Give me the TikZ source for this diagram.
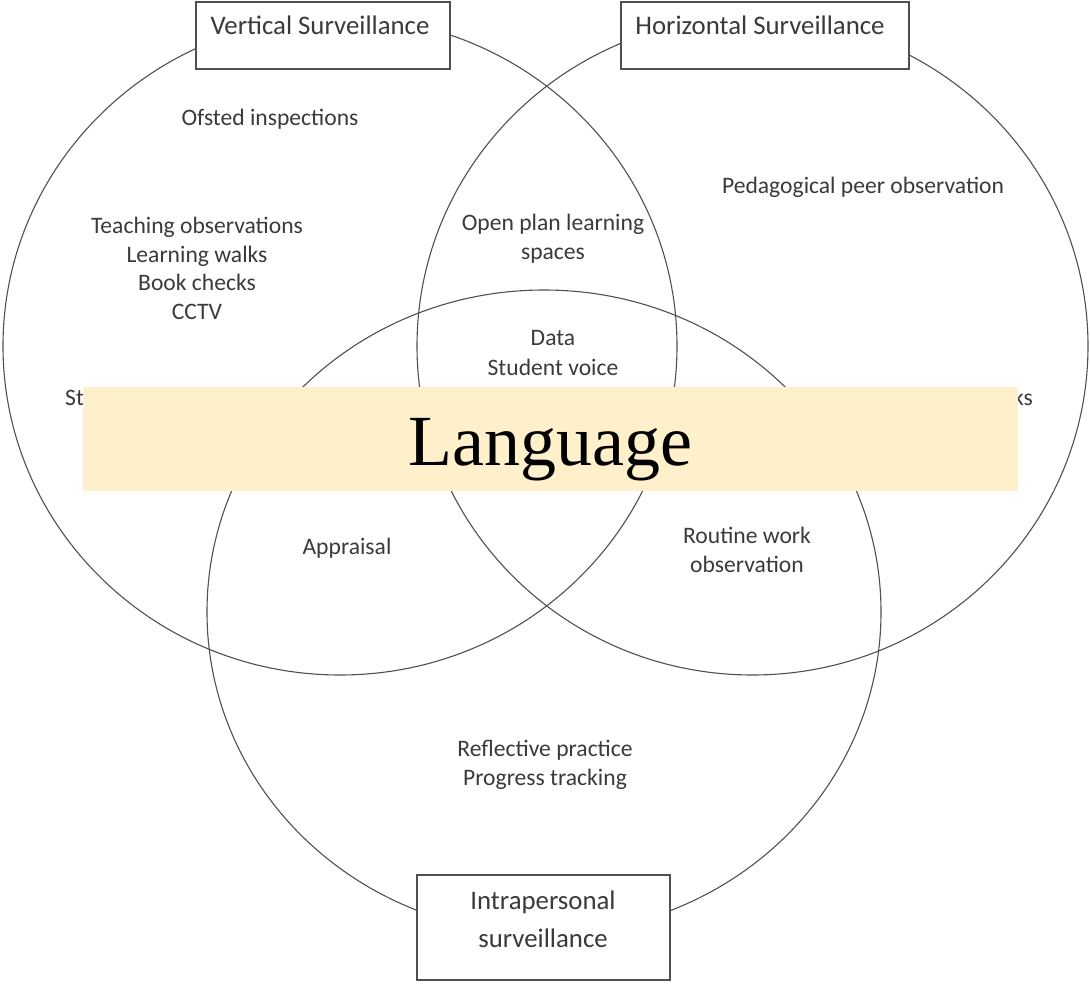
\documentclass[tikz,border=0pt]{standalone}
\usepackage{fontspec}
\setmainfont{Carlito}
\newfontfamily\langfont{Liberation Serif}
\definecolor{ink}{HTML}{3A3A3A}
\definecolor{ringc}{HTML}{505050}
\definecolor{bannerc}{HTML}{FFF0CC}
\begin{document}
\begin{tikzpicture}[x=1pt,y=-1pt,
  ring/.style={draw=ringc, line width=1.1pt},
  lbl/.style={text=ink, font=\fontsize{23.6}{29}\selectfont, align=center, inner sep=0pt, anchor=base},
  boxlbl/.style={text=ink, font=\fontsize{26.8}{38}\selectfont, align=center, inner sep=0pt, anchor=base},
  frame/.style={draw=ringc, fill=white, line width=1.1pt, inner sep=0pt}]
\useasboundingbox (0,0) rectangle (1090,984);
% circles
\draw[ring] (340,346) ellipse [x radius=337, y radius=329];
\draw[ring] (752.5,346) ellipse [x radius=335.5, y radius=329];
\draw[ring] (544,612) ellipse [x radius=337, y radius=322];
% texts
\node[lbl] (ofsted) at (270,126) {Ofsted inspections};
\node[lbl] (teach) at (197,320) {Teaching observations\\Learning walks\\Book checks\\CCTV};
\node[lbl] (open) at (553,260) {Open plan learning\\spaces};
\node[lbl] (peda) at (863,194) {Pedagogical peer observation};
\node[lbl] (data) at (553,375) {Data\\Student voice};
\node[lbl, anchor=base west] (stud) at (65,405) {Student surveys};
\node[lbl, anchor=base east] (peer) at (1033,405) {Peer book checks};
\node[lbl] (appr) at (347,554) {Appraisal};
\node[lbl] (rout) at (747,572) {Routine work\\observation};
\node[lbl] (refl) at (545,785) {Reflective practice\\Progress tracking};
% banner
\node[fill=bannerc, minimum width=935, minimum height=104, inner sep=0pt] (banner) at (550.5,438.5) {};
\node[anchor=base, inner sep=0pt, font=\langfont\fontsize{72}{72}\selectfont] (lang) at (550,465) {Language};
% label boxes
\node[frame, minimum width=254, minimum height=67] (vbox) at (323,35.5) {};
\node[boxlbl] (vlbl) at (320,35) {Vertical Surveillance};
\node[frame, minimum width=288, minimum height=67] (hbox) at (765,35.5) {};
\node[boxlbl] (hlbl) at (760,35) {Horizontal Surveillance};
\node[frame, minimum width=253, minimum height=105] (ibox) at (543.5,927.5) {};
\node[boxlbl] (ilbl) at (543,947) {Intrapersonal\\surveillance};
\end{tikzpicture}
\end{document}
